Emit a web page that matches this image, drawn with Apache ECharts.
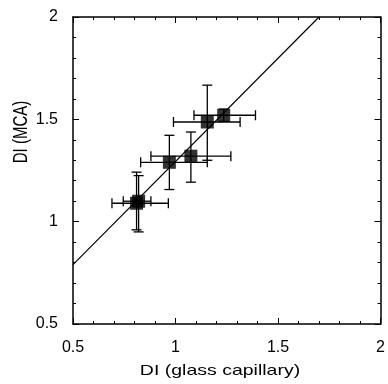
<!DOCTYPE html>
<html><head><meta charset="utf-8">
<script src="https://cdn.jsdelivr.net/npm/echarts@6/dist/echarts.min.js"></script>
<style>html,body{margin:0;padding:0;background:#fff}#c{width:388px;height:384px}</style>
</head><body><div id="c"></div>
<script>
// Data points (DI glass capillary vs DI MCA)
const xVals  = [0.81, 0.82, 0.97, 1.075, 1.155, 1.235];
const yVals  = [1.09, 1.10, 1.29, 1.32, 1.487, 1.52];
const xLow   = [0.69, 0.745, 0.83, 0.88, 0.99, 1.09];
const xHigh  = [0.965, 0.88, 1.155, 1.27, 1.315, 1.39];
const yLow   = [0.96, 0.95, 1.157, 1.193, 1.30, 1.49];
const yHigh  = [1.242, 1.225, 1.422, 1.438, 1.667, 1.55];
// Fitted line endpoints
const lineX = [0.5, 1.7];
const lineY = [0.79, 2.0];
const xTicks = [0.5, 1, 1.5, 2];
const yTicks = [0.5, 1, 1.5, 2];
const xTitle = 'DI (glass capillary)';
const yTitle = 'DI (MCA)';

const points = xVals.map((x, i) => [x, yVals[i]]);
const errData = xVals.map((x, i) => [x, yVals[i], xLow[i], xHigh[i], yLow[i], yHigh[i]]);
const fitLine = lineX.map((x, i) => [x, lineY[i]]);

const font = '"Liberation Sans", Arial, sans-serif';
const chart = echarts.init(document.getElementById('c'), null, {renderer: 'canvas'});
const axisCommon = {
  min: 0.5, max: 2, interval: 0.5,
  axisLine: {show: true, onZero: false, lineStyle: {color: '#000', width: 1.5}},
  axisTick: {show: true, inside: true, length: 6, lineStyle: {color: '#000', width: 1}},
  minorTick: {show: true, splitNumber: 5, length: 3, lineStyle: {color: '#000', width: 1}},
  splitLine: {show: false}
};
chart.setOption({
  animation: false,
  grid: {left: 73, right: 3, top: 17, bottom: 60},
  graphic: [
    {type: 'text', x: 220, y: 371, scaleX: 1.3, silent: true,
      style: {text: xTitle, font: '15px ' + font, fill: '#000', textAlign: 'center', textVerticalAlign: 'middle'}},
    {type: 'text', x: 22, y: 132, rotation: Math.PI / 2, scaleY: 1.3, silent: true,
      style: {text: yTitle, font: '15px ' + font, fill: '#000', textAlign: 'center', textVerticalAlign: 'middle'}}
  ],
  xAxis: [
    Object.assign({}, axisCommon, {
      type: 'value', position: 'bottom',
      axisLabel: {fontFamily: font, fontSize: 16, color: '#000', margin: 16,
        formatter: v => xTicks.includes(v) ? String(v) : ''}
    }),
    Object.assign({}, axisCommon, {type: 'value', position: 'top', axisLabel: {show: false}})
  ],
  yAxis: [
    Object.assign({}, axisCommon, {
      type: 'value', position: 'left',
      axisLabel: {fontFamily: font, fontSize: 16, color: '#000', margin: 15,
        formatter: v => yTicks.includes(v) ? String(v) : ''}
    }),
    Object.assign({}, axisCommon, {type: 'value', position: 'right', axisLabel: {show: false}})
  ],
  series: [
    {
      type: 'line', data: fitLine, symbol: 'none', silent: true,
      lineStyle: {color: '#000', width: 1.2}, z: 1
    },
    {
      type: 'custom', data: errData, z: 2,
      renderItem: function (params, api) {
        const x = api.value(0), y = api.value(1);
        const xl = api.coord([api.value(2), y]), xh = api.coord([api.value(3), y]);
        const yl = api.coord([x, api.value(4)]), yh = api.coord([x, api.value(5)]);
        const c = 5;
        const st = {stroke: '#000', lineWidth: 1.3};
        const mk = (x1, y1, x2, y2) => ({type: 'line', shape: {x1, y1, x2, y2}, style: st});
        return {type: 'group', children: [
          mk(xl[0], xl[1], xh[0], xh[1]),
          mk(xl[0], xl[1] - c, xl[0], xl[1] + c),
          mk(xh[0], xh[1] - c, xh[0], xh[1] + c),
          mk(yl[0], yl[1], yh[0], yh[1]),
          mk(yl[0] - c, yl[1], yl[0] + c, yl[1]),
          mk(yh[0] - c, yh[1], yh[0] + c, yh[1])
        ]};
      }
    },
    {
      type: 'scatter', data: points, symbol: 'rect', symbolSize: 13, z: 3,
      itemStyle: {color: '#000'}
    }
  ]
});
</script></body></html>
